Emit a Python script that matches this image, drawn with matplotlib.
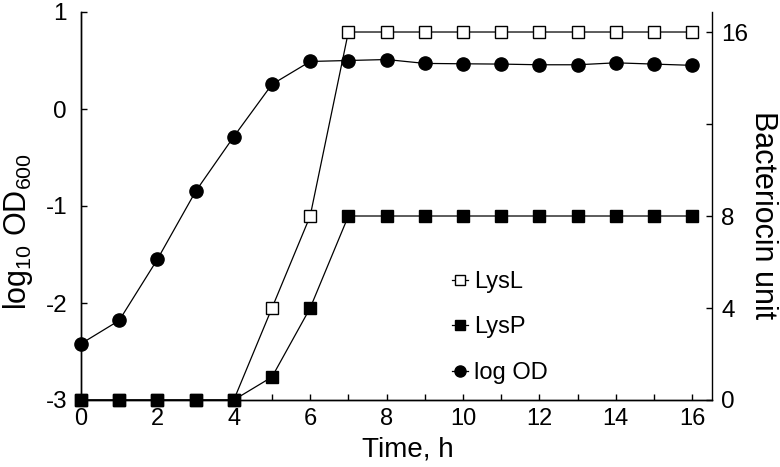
import matplotlib
matplotlib.use("Agg")
import matplotlib.pyplot as plt
from matplotlib.lines import Line2D

plt.rcParams['font.family'] = ['Liberation Sans', 'DejaVu Sans']
plt.rcParams['mathtext.fontset'] = 'custom'
plt.rcParams['mathtext.rm'] = 'Liberation Sans'

time_h = list(range(0, 17))
log_od = [-2.42, -2.18, -1.55, -0.85, -0.285, 0.254, 0.49, 0.50, 0.51, 0.47,
          0.466, 0.463, 0.456, 0.456, 0.476, 0.463, 0.45]
lysL = [0, 0, 0, 0, 0, 4, 8, 16, 16, 16, 16, 16, 16, 16, 16, 16, 16]
lysP = [0, 0, 0, 0, 0, 1, 4, 8, 8, 8, 8, 8, 8, 8, 8, 8, 8]

left_ticks = [-3, -2, -1, 0, 1]
left_ticklabels = ['-3', '-2', '-1', '0', '1']
right_ticks = [0, 4, 8, 12, 16]
right_ticklabels = ['0', '4', '8', '', '16']
x_major = [0, 2, 4, 6, 8, 10, 12, 14, 16]

fig = plt.figure(figsize=(7.8, 4.67), dpi=100)
ax = fig.add_axes([81/780, 1-400/467, (712-81)/780, (400-12)/467])
ax2 = ax.twinx()

lw = 0.9
l_od, = ax.plot(time_h, log_od, color='black', lw=lw, marker='o', markersize=9.5,
                markerfacecolor='black', markeredgecolor='black', clip_on=False, zorder=3)
l_L, = ax2.plot(time_h, lysL, color='black', lw=lw, marker='s', markersize=8.2,
                markerfacecolor='white', markeredgecolor='black', markeredgewidth=1.0,
                clip_on=False, zorder=3)
l_P, = ax2.plot(time_h, lysP, color='black', lw=lw, marker='s', markersize=8.2,
                markerfacecolor='black', markeredgecolor='black', clip_on=False, zorder=4)

ax.set_xlim(0, 16.52)
ax.set_ylim(-3, 1)
ax2.set_ylim(0, 16.87)

ax.set_xticks(x_major)
ax.set_xticks(time_h, minor=True)
ax.set_yticks(left_ticks)
ax.set_yticklabels(left_ticklabels)
ax2.set_yticks(right_ticks)
ax2.set_yticklabels(right_ticklabels)

for a in (ax, ax2):
    a.spines['top'].set_visible(False)
    for s in a.spines.values():
        s.set_linewidth(1.0)
ax.spines['right'].set_visible(False)

ax.tick_params(axis='x', which='both', direction='in', length=4, width=1.0,
               labelsize=17, pad=6)
ax.tick_params(axis='y', direction='in', length=4, width=1.0, labelsize=17.5, pad=10)
ax2.tick_params(axis='y', direction='in', length=4, width=1.0, labelsize=17.5, pad=6.5)

ax.set_xlabel('Time, h', fontsize=20)
ax.xaxis.set_label_coords((408-81)/631, -(449-400)/388, transform=ax.transAxes)
ax.xaxis.label.set_va('center')
ax.set_ylabel(r'log$_{\mathregular{10}}$ OD$_{\mathregular{600}}$', fontsize=22)
ax.yaxis.set_label_coords(-(81-18)/631, (400-232)/388)
ax.yaxis.label.set_va('center')
ax2.set_ylabel('Bacteriocin unit', fontsize=22, rotation=270)
ax2.yaxis.set_label_coords((763-81)/631, (400-215)/388)
ax2.yaxis.label.set_va('center')

h1 = Line2D([], [], color='black', lw=lw, marker='s', markersize=7,
            markerfacecolor='white', markeredgecolor='black')
h2 = Line2D([], [], color='black', lw=lw, marker='s', markersize=7,
            markerfacecolor='black', markeredgecolor='black')
h3 = Line2D([], [], color='black', lw=lw, marker='o', markersize=8,
            markerfacecolor='black', markeredgecolor='black')
fig.legend([h1, h2, h3], ['LysL', 'LysP', 'log OD'], loc='upper left',
           bbox_to_anchor=(440/780, 1-259/467), frameon=False, fontsize=17,
           handlelength=0.7, handletextpad=0.25, labelspacing=1.0, borderpad=0)

fig.savefig('out.png', dpi=100)
